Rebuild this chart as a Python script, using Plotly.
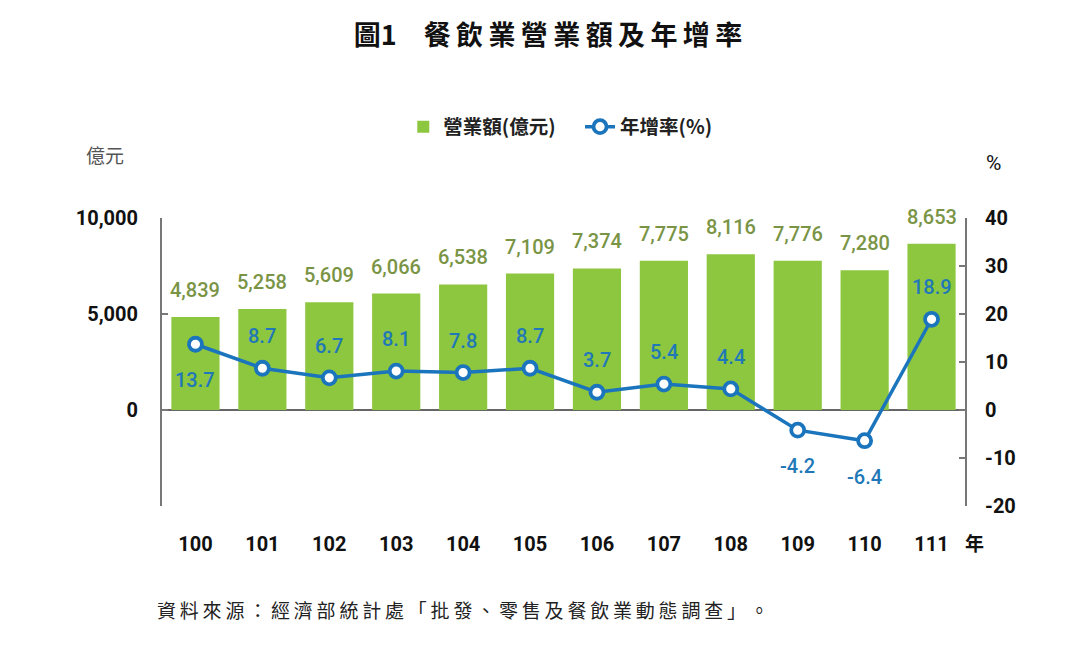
import plotly.graph_objects as go

years = ["100", "101", "102", "103", "104", "105", "106", "107", "108", "109", "110", "111"]
revenue = [4839, 5258, 5609, 6066, 6538, 7109, 7374, 7775, 8116, 7776, 7280, 8653]
growth = [13.7, 8.7, 6.7, 8.1, 7.8, 8.7, 3.7, 5.4, 4.4, -4.2, -6.4, 18.9]
growth_label_side = [-1, 1, 1, 1, 1, 1, 1, 1, 1, -1, -1, 1]
left_ticks = [-5000, 0, 5000, 10000]
left_ticktext = ["", "0", "5,000", "10,000"]
right_ticks = [-20, -10, 0, 10, 20, 30, 40]
right_ticktext = ["-20", "-10", "0", "10", "20", "30", "40"]

NUM_FONT = "Roboto, Noto Sans, sans-serif"
CJK_FONT = "Noto Sans CJK TC, Noto Sans, sans-serif"
TS = "\u2009"

BAR_GREEN = "#8DC63F"
LABEL_OLIVE = "#7A9445"
LINE_BLUE = "#1B75BC"

fig = go.Figure()
fig.add_trace(go.Bar(
    x=years, y=revenue, name="營業額(億元)　",
    marker=dict(color=BAR_GREEN, line=dict(width=0)),
    yaxis="y",
))
fig.add_trace(go.Scatter(
    x=years, y=growth, name="年增率(%)", mode="lines+markers",
    line=dict(color=LINE_BLUE, width=3.5),
    marker=dict(size=13, color="white", line=dict(color=LINE_BLUE, width=3.8)),
    cliponaxis=False, yaxis="y2",
))

for i, v in enumerate(revenue):
    fig.add_annotation(x=i, y=v, xref="x", yref="y", text=f"{v:,}", showarrow=False,
                       xanchor="center", yanchor="bottom", yshift=13,
                       font=dict(family=NUM_FONT, size=20, color=LABEL_OLIVE, weight=500))
for i, (v, s) in enumerate(zip(growth, growth_label_side)):
    fig.add_annotation(x=i, y=v, xref="x", yref="y2", text=f"{v:.1f}", showarrow=False,
                       xanchor="center", yanchor="middle", yshift=(32 if s > 0 else -36),
                       font=dict(family=NUM_FONT, size=20, color="#1F78B8", weight=500))

fig.update_layout(
    width=1080, height=650,
    margin=dict(l=154, r=123, t=210, b=152),
    plot_bgcolor="white", paper_bgcolor="white",
    bargap=0.28,
    title=dict(text="<b>圖1" + "　" + TS.join("餐飲業營業額及年增率") + "</b>",
               x=0.5, xanchor="center", y=0.958, yanchor="middle",
               font=dict(family=CJK_FONT, size=27, color="#111")),
    legend=dict(orientation="h", x=0.496, xanchor="center", y=1.316, yanchor="middle",
                font=dict(family=CJK_FONT, size=19.5, color="#222", weight="bold"),
                traceorder="normal", bgcolor="rgba(0,0,0,0)"),
    showlegend=True,
    xaxis=dict(type="category", range=[-0.5, 11.5], showline=False, showgrid=False,
               zeroline=False, ticks="",
               tickfont=dict(family=NUM_FONT, size=20, color="#111", weight="bold"),
               ticklabelstandoff=24),
    yaxis=dict(range=[-5000, 10000], tickvals=left_ticks, ticktext=left_ticktext,
               showline=True, linecolor="#777", linewidth=2, ticks="inside", ticklen=6,
               tickcolor="#777", tickwidth=2, showgrid=False,
               zeroline=True, zerolinecolor="#666", zerolinewidth=2,
               tickfont=dict(family=NUM_FONT, size=20, color="#111", weight="bold"),
               ticklabelstandoff=18),
    yaxis2=dict(range=[-20, 40], tickvals=right_ticks, ticktext=right_ticktext,
                overlaying="y", side="right",
                showline=True, linecolor="#777", linewidth=2, ticks="inside", ticklen=6,
                tickcolor="#777", tickwidth=2, showgrid=False, zeroline=False,
                tickfont=dict(family=NUM_FONT, size=20, color="#111", weight="bold"),
                ticklabelstandoff=14),
)

fig.add_annotation(text="億元", xref="paper", yref="paper", x=-0.071, y=1.219,
                   xanchor="center", yanchor="middle",
                   showarrow=False, font=dict(family=CJK_FONT, size=19, color="#555"))
fig.add_annotation(text="%", xref="paper", yref="paper", x=1.035, y=1.191,
                   xanchor="center", yanchor="middle",
                   showarrow=False, font=dict(family=NUM_FONT, size=21, color="#111"))
fig.add_annotation(text="<b>年</b>", xref="paper", yref="paper", x=1.012, y=-0.128,
                   xanchor="center", yanchor="middle",
                   showarrow=False, font=dict(family=CJK_FONT, size=19, color="#111"))
fig.add_annotation(text=TS.join("資料來源：經濟部統計處「批發、零售及餐飲業動態調查」。"),
                   xref="paper", yref="paper", x=-0.009, y=-0.361,
                   xanchor="left", yanchor="middle", showarrow=False,
                   font=dict(family=CJK_FONT, size=19, color="#222"))

fig.write_html("out.html")
